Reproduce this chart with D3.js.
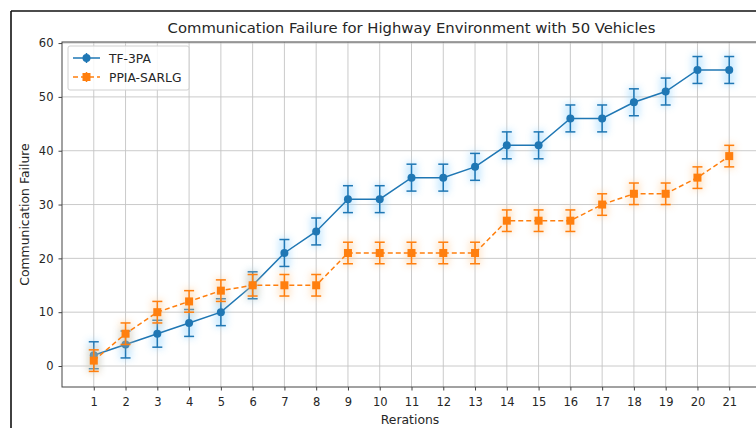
<!DOCTYPE html>
<html>
<head>
<meta charset="utf-8">
<title>Communication Failure</title>
<script src="https://cdn.jsdelivr.net/npm/d3@7"></script>
<style>
  body { margin: 0; background: #fff; }
  text { font-family: "DejaVu Sans", sans-serif; fill: #262626; }
</style>
</head>
<body>
<svg id="chart" width="756" height="428"></svg>
<script>
var iterations = [1, 2, 3, 4, 5, 6, 7, 8, 9, 10, 11, 12, 13, 14, 15, 16, 17, 18, 19, 20, 21]
var tf3pa    = [2, 4, 6, 8, 10, 15, 21, 25, 31, 31, 35, 35, 37, 41, 41, 46, 46, 49, 51, 55, 55]
var tf3paErr = [2.5, 2.5, 2.5, 2.5, 2.5, 2.5, 2.5, 2.5, 2.5, 2.5, 2.5, 2.5, 2.5, 2.5, 2.5, 2.5, 2.5, 2.5, 2.5, 2.5, 2.5]
var ppia     = [1, 6, 10, 12, 14, 15, 15, 15, 21, 21, 21, 21, 21, 27, 27, 27, 30, 32, 32, 35, 39]
var ppiaErr  = [2, 2, 2, 2, 2, 2, 2, 2, 2, 2, 2, 2, 2, 2, 2, 2, 2, 2, 2, 2, 2]
var yTicks = [0, 10, 20, 30, 40, 50, 60]
var seriesNames = ['TF-3PA', 'PPIA-SARLG']

var svg = d3.select('#chart')

// plot area (right edge falls outside the cropped picture)
var pLeft = 62, pRight = 761, pTop = 42, pBottom = 387

var x = d3.scaleLinear().domain([0, 22]).range([pLeft, pRight])
var y = d3.scaleLinear().domain([-3.9, 60.2]).range([pBottom, pTop])

var defs = svg.append('defs')
defs.append('filter').attr('id', 'glow')
  .attr('x', '-50%').attr('y', '-50%').attr('width', '200%').attr('height', '200%')
  .append('feGaussianBlur').attr('stdDeviation', 3.5)

// outer frame of the screenshot
svg.append('line').attr('x1', 11).attr('y1', 11).attr('x2', 756).attr('y2', 11)
  .attr('stroke', '#111').attr('stroke-width', 1.6)
svg.append('line').attr('x1', 11).attr('y1', 11).attr('x2', 11).attr('y2', 428)
  .attr('stroke', '#111').attr('stroke-width', 1.6)

// grid
var grid = svg.append('g')
grid.selectAll('.gx').data(iterations).enter().append('line')
  .attr('x1', function(d){ return x(d) }).attr('x2', function(d){ return x(d) })
  .attr('y1', pTop).attr('y2', pBottom)
  .attr('stroke', '#c4c4c4').attr('stroke-width', 0.9)
grid.selectAll('.gy').data(yTicks).enter().append('line')
  .attr('x1', pLeft).attr('x2', pRight)
  .attr('y1', function(d){ return y(d) }).attr('y2', function(d){ return y(d) })
  .attr('stroke', '#c4c4c4').attr('stroke-width', 0.9)

// axes
svg.append('g').attr('transform', 'translate(0,' + pBottom + ')')
  .call(d3.axisBottom(x).tickValues(iterations).tickSize(3.5).tickPadding(7).tickSizeOuter(0))
svg.append('g').attr('transform', 'translate(' + pLeft + ',0)')
  .call(d3.axisLeft(y).tickValues(yTicks).tickSize(3.5).tickPadding(5).tickSizeOuter(0))
svg.selectAll('.domain').remove()
svg.selectAll('.tick line').attr('stroke', '#444')
svg.selectAll('.tick text').attr('font-size', 11.5).attr('font-family', '"DejaVu Sans", sans-serif').attr('fill', '#333')

// spines
svg.append('rect').attr('x', pLeft).attr('y', pTop).attr('width', pRight - pLeft).attr('height', pBottom - pTop)
  .attr('fill', 'none').attr('stroke', '#444').attr('stroke-width', 1)

// series
var series = [
  { name: seriesNames[0], values: tf3pa, errs: tf3paErr, color: '#1f77b4', halo: '#8fd3ff', dash: null, marker: 'circle' },
  { name: seriesNames[1], values: ppia, errs: ppiaErr, color: '#ff7f0e', halo: '#ffc98f', dash: '5,3', marker: 'square' }
]

var line = d3.line()
  .x(function(d){ return x(d.it) })
  .y(function(d){ return y(d.v) })

series.forEach(function(s){
  var pts = iterations.map(function(it, i){ return { it: it, v: s.values[i], e: s.errs[i] } })

  // soft halo around markers and bars
  var halo = svg.append('g').attr('filter', 'url(#glow)').attr('opacity', 0.45)
  halo.selectAll('rect').data(pts).enter().append('rect')
    .attr('x', function(d){ return x(d.it) - 6 })
    .attr('y', function(d){ return y(d.v + d.e) - 2 })
    .attr('width', 12)
    .attr('height', function(d){ return y(d.v - d.e) - y(d.v + d.e) + 4 })
    .attr('fill', s.halo)

  var g = svg.append('g')
  g.append('path').datum(pts).attr('d', line)
    .attr('fill', 'none').attr('stroke', s.color).attr('stroke-width', 1.5)
    .attr('stroke-dasharray', s.dash)

  var eb = g.selectAll('.eb').data(pts).enter().append('g')
  eb.append('line')
    .attr('x1', function(d){ return x(d.it) }).attr('x2', function(d){ return x(d.it) })
    .attr('y1', function(d){ return y(d.v - d.e) }).attr('y2', function(d){ return y(d.v + d.e) })
    .attr('stroke', s.color).attr('stroke-width', 1.5)
  ;[-1, 1].forEach(function(sign){
    eb.append('line')
      .attr('x1', function(d){ return x(d.it) - 5 }).attr('x2', function(d){ return x(d.it) + 5 })
      .attr('y1', function(d){ return y(d.v + sign * d.e) }).attr('y2', function(d){ return y(d.v + sign * d.e) })
      .attr('stroke', s.color).attr('stroke-width', 1.5)
  })

  if (s.marker === 'circle') {
    g.selectAll('circle').data(pts).enter().append('circle')
      .attr('cx', function(d){ return x(d.it) }).attr('cy', function(d){ return y(d.v) })
      .attr('r', 4).attr('fill', s.color)
  } else {
    g.selectAll('.sq').data(pts).enter().append('rect')
      .attr('x', function(d){ return x(d.it) - 4 }).attr('y', function(d){ return y(d.v) - 4 })
      .attr('width', 8).attr('height', 8).attr('fill', s.color)
  }
})

// legend
var lg = svg.append('g')
lg.append('rect').attr('x', 68).attr('y', 46).attr('width', 121).attr('height', 44).attr('rx', 2)
  .attr('fill', '#fff').attr('fill-opacity', 0.85).attr('stroke', '#d0d0d0')
series.forEach(function(s, i){
  var ly = 58 + i * 19
  lg.append('line').attr('x1', 73).attr('x2', 100).attr('y1', ly).attr('y2', ly)
    .attr('stroke', s.color).attr('stroke-width', 1.5).attr('stroke-dasharray', s.dash)
  lg.append('line').attr('x1', 86.5).attr('x2', 86.5).attr('y1', ly - 5).attr('y2', ly + 5)
    .attr('stroke', s.color).attr('stroke-width', 1.5)
  if (s.marker === 'circle') {
    lg.append('circle').attr('cx', 86.5).attr('cy', ly).attr('r', 4).attr('fill', s.color)
  } else {
    lg.append('rect').attr('x', 82.5).attr('y', ly - 4).attr('width', 8).attr('height', 8).attr('fill', s.color)
  }
  lg.append('text').attr('x', 109).attr('y', ly + 4.5).attr('font-size', 12.3).text(s.name)
})

// titles
svg.append('text').attr('x', (pLeft + pRight) / 2).attr('y', 33).attr('text-anchor', 'middle')
  .attr('font-size', 14.8).text('Communication Failure for Highway Environment with 50 Vehicles')
svg.append('text').attr('x', 410).attr('y', 424).attr('text-anchor', 'middle')
  .attr('font-size', 12.4).text('Rerations')
svg.append('text').attr('transform', 'translate(29,' + ((pTop + pBottom) / 2) + ') rotate(-90)')
  .attr('text-anchor', 'middle').attr('font-size', 12.4).text('Communication Failure')
</script>
</body>
</html>
